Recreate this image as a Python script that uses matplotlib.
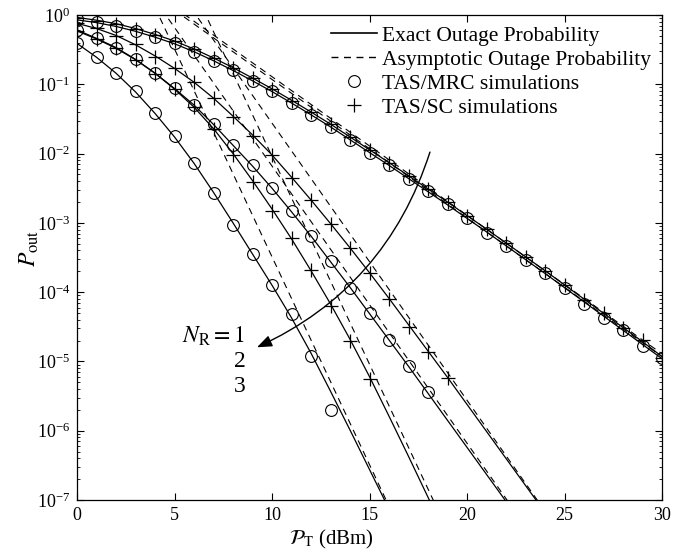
import numpy as np
import matplotlib
matplotlib.use("Agg")
import matplotlib.pyplot as plt
from matplotlib.lines import Line2D

plt.rcParams["font.family"] = ["Liberation Serif", "DejaVu Serif"]
plt.rcParams["mathtext.fontset"] = "stix"

# ---- data (log10 of outage probability) ----
# exact curves, sampled at integer P_T (dBm) starting from 0
nr1_mrc_exact = [-0.07, -0.11, -0.165, -0.235, -0.32, -0.415, -0.53, -0.66, -0.80, -0.95,
                 -1.105, -1.27, -1.44, -1.615, -1.80, -1.985, -2.17, -2.36, -2.55, -2.74,
                 -2.935, -3.13, -3.33, -3.53, -3.73, -3.935, -4.14, -4.345, -4.55, -4.755, -4.96]
nr1_sc_exact = [-0.035, -0.075, -0.125, -0.195, -0.28, -0.375, -0.49, -0.62, -0.76, -0.91,
                -1.065, -1.23, -1.40, -1.575, -1.76, -1.945, -2.13, -2.32, -2.51, -2.70,
                -2.895, -3.09, -3.29, -3.49, -3.69, -3.895, -4.10, -4.305, -4.51, -4.715, -4.93]
nr2_mrc_exact = [-0.216, -0.337, -0.47, -0.64, -0.84, -1.06, -1.30, -1.58, -1.88, -2.18,
                 -2.50, -2.84, -3.19, -3.56, -3.93, -4.31, -4.69, -5.07, -5.46, -5.85,
                 -6.24, -6.63, -7.02, -7.41]
nr2_sc_exact = [-0.12, -0.195, -0.295, -0.43, -0.59, -0.77, -0.97, -1.20, -1.46, -1.73,
                -2.02, -2.34, -2.67, -3.01, -3.36, -3.72, -4.09, -4.47, -4.85, -5.23,
                -5.62, -6.01, -6.40, -6.79, -7.18]
nr3_mrc_exact = [-0.41, -0.61, -0.84, -1.11, -1.42, -1.76, -2.14, -2.56, -3.0, -3.45,
                 -3.90, -4.37, -4.88, -5.43, -5.99, -6.56, -7.13]
nr3_sc_exact = [-0.23, -0.345, -0.48, -0.645, -0.84, -1.07, -1.33, -1.64, -2.0, -2.39,
                -2.80, -3.23, -3.69, -4.17, -4.68, -5.22, -5.79, -6.37, -6.96, -7.55]

# asymptotes: two end points each (P_T, log10 P)
asym_x = {"nr1_mrc": [5, 30], "nr1_sc": [5, 30], "nr2_mrc": [4, 23], "nr2_sc": [5, 24],
          "nr3_mrc": [4, 16], "nr3_sc": [6, 19]}
asym_log = {"nr1_mrc": [0.07, -4.93], "nr1_sc": [0.11, -4.89], "nr2_mrc": [0.22, -7.38],
            "nr2_sc": [0.44, -7.16], "nr3_mrc": [0.11, -7.09], "nr3_sc": [0.36, -7.44]}

# simulation points (integer P_T from 0)
nr1_mrc_sim = [-0.055, -0.10, -0.155, -0.227, -0.313, -0.404, -0.53, -0.66, -0.80, -0.95,
               -1.10, -1.27, -1.44, -1.61, -1.80, -1.99, -2.17, -2.36, -2.535, -2.73,
               -2.93, -3.14, -3.33, -3.53, -3.72, -3.94, -4.17, -4.38, -4.55, -4.78, -4.95]
nr1_sc_sim = [-0.04, -0.08, -0.13, -0.20, -0.285, -0.38, -0.495, -0.625, -0.765, -0.915,
              -1.07, -1.235, -1.405, -1.58, -1.765, -1.95, -2.135, -2.325, -2.515, -2.705,
              -2.90, -3.095, -3.295, -3.495, -3.695, -3.90, -4.11, -4.30, -4.52, -4.69, -4.95]
nr2_mrc_sim = [-0.216, -0.337, -0.47, -0.64, -0.84, -1.06, -1.30, -1.58, -1.88, -2.165,
               -2.50, -2.83, -3.19, -3.55, -3.94, -4.30, -4.69, -5.06, -5.44]
nr2_sc_sim = [-0.12, -0.19, -0.30, -0.42, -0.60, -0.77, -0.96, -1.20, -1.47, -1.75,
              -2.02, -2.35, -2.67, -3.01, -3.37, -3.72, -4.10, -4.50, -4.87, -5.24]
nr3_mrc_sim = [-0.41, -0.61, -0.84, -1.10, -1.42, -1.75, -2.14, -2.57, -3.03, -3.45,
               -3.90, -4.32, -4.92, -5.70]
nr3_sc_sim = [-0.23, -0.35, -0.48, -0.65, -0.85, -1.07, -1.33, -1.64, -2.02, -2.41,
              -2.83, -3.22, -3.68, -4.20, -4.70, -5.26]

legend_labels = ["Exact Outage Probability", "Asymptotic Outage Probability",
                 "TAS/MRC simulations", "TAS/SC simulations"]

# ---- plot ----
fig = plt.figure(figsize=(6.92, 5.5), dpi=100)
ax = fig.add_axes([77 / 692, 50 / 550, 585 / 692, 485 / 550])

lw = 0.9
dash = (6, 4.5)

for vals in [nr1_mrc_exact, nr1_sc_exact, nr2_mrc_exact, nr2_sc_exact,
             nr3_mrc_exact, nr3_sc_exact]:
    ax.plot(np.arange(len(vals)), 10.0 ** np.array(vals), "-", color="black", lw=lw)

for key in asym_x:
    ax.plot(asym_x[key], 10.0 ** np.array(asym_log[key]), color="black", lw=0.8,
            dashes=dash)

circ = dict(marker="o", ls="none", mfc="none", mec="black", ms=8.5, mew=0.8)
plus = dict(marker="+", ls="none", color="black", ms=9.5, mew=0.9)
for vals in [nr1_mrc_sim, nr2_mrc_sim, nr3_mrc_sim]:
    ax.plot(np.arange(len(vals)), 10.0 ** np.array(vals), **circ)
for vals in [nr1_sc_sim, nr2_sc_sim, nr3_sc_sim]:
    ax.plot(np.arange(len(vals)), 10.0 ** np.array(vals), **plus)

ax.set_yscale("log")
ax.set_xlim(0, 30)
ax.set_ylim(1e-7, 1)
ax.set_xticks(range(0, 31, 5))
ax.tick_params(which="both", direction="in", top=True, right=True, labelsize=13)
ax.tick_params(which="major", length=5, pad=5)
ax.tick_params(which="minor", length=2.5)
ax.yaxis.set_minor_locator(matplotlib.ticker.LogLocator(base=10, subs=np.arange(2, 10), numticks=20))
for sp in ax.spines.values():
    sp.set_linewidth(0.9)

ax.set_ylabel(r"$P_{\rm out}$", fontsize=17)
ax.yaxis.set_label_coords(-0.062, 0.52)
ax.set_xlabel(r"$\mathcal{P}_{\rm T}$ (dBm)", fontsize=15)
ax.xaxis.set_label_coords(0.435, -0.058)

# curved arrow over N_R
ax.annotate("", xy=(9.23, 1.6e-5), xytext=(18.1, 1.05e-2),
            arrowprops=dict(arrowstyle="-|>,head_length=0.9,head_width=0.35",
                            connectionstyle="arc3,rad=-0.22", color="black", lw=1.0,
                            shrinkA=0, shrinkB=0))
ax.text(8.6, 10 ** -4.73, r"$N_{\rm R} = 1$", fontsize=17, ha="right", va="baseline")
ax.text(8.36, 10 ** -5.08, "2", fontsize=17, ha="center", va="baseline")
ax.text(8.36, 10 ** -5.44, "3", fontsize=17, ha="center", va="baseline")

handles = [Line2D([], [], color="black", lw=1.2),
           Line2D([], [], color="black", lw=1.0, dashes=(5, 4)),
           Line2D([], [], **circ),
           Line2D([], [], **plus)]
ax.legend(handles, legend_labels, loc="upper right", bbox_to_anchor=(1.0, 1.0),
          frameon=False, fontsize=15.5, handlelength=2.15, handletextpad=0.25,
          labelspacing=0.18, borderaxespad=0.1)

fig.savefig("out.png", dpi=100)
